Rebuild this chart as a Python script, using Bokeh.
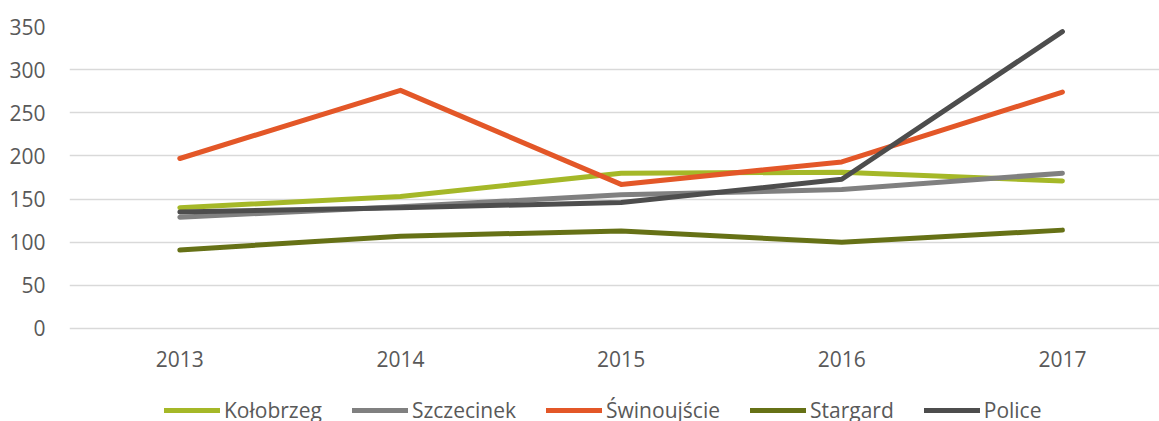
from bokeh.plotting import figure
from bokeh.models import Range1d, FixedTicker, Legend, LegendItem
from bokeh.core.properties import value
from bokeh.embed import file_html
from bokeh.resources import INLINE

years = [2013, 2014, 2015, 2016, 2017]
year_labels = ["2013", "2014", "2015", "2016", "2017"]
y_ticks = [0, 50, 100, 150, 200, 250, 300, 350]

kolobrzeg = [140, 153, 180, 181, 171]
szczecinek = [129, 141, 155, 161, 180]
swinoujscie = [197, 276, 167, 193, 274]
stargard = [91, 107, 113, 100, 114]
police = [135, 140, 146, 173, 344]

series_names = ["Kołobrzeg", "Szczecinek", "Świnoujście", "Stargard", "Police"]
series_values = [kolobrzeg, szczecinek, swinoujscie, stargard, police]
series_colors = ["#A5B828", "#808080", "#E35728", "#667116", "#4D4D4D"]

FONT = "Open Sans"
TXT = "#595959"

# frame spans from the top gridline down to the bottom of the picture,
# so that the category labels and the legend sit inside it below zero
p = figure(width=1159, height=421, output_backend="svg", toolbar_location=None,
           x_range=Range1d(2012.5, 2017.44), y_range=Range1d(-107.8, 350),
           x_axis_location=None,
           min_border_left=69, min_border_right=0, min_border_top=26,
           min_border_bottom=0)
p.outline_line_color = None
p.background_fill_color = "white"
p.border_fill_color = "white"

p.xgrid.grid_line_color = None
p.ygrid.grid_line_color = "#D9D9D9"
p.ygrid.grid_line_width = 1.5

p.yaxis.ticker = FixedTicker(ticks=y_ticks)
ax = p.yaxis[0]
ax.axis_line_color = None
ax.major_tick_line_color = None
ax.minor_tick_line_color = None
ax.major_tick_out = 0
ax.major_tick_in = 0
ax.major_label_text_font = FONT
ax.major_label_text_font_size = "21px"
ax.major_label_text_color = TXT
ax.major_label_standoff = 24

# category labels under the zero line
p.text(x=years, y=[0] * len(years), text=year_labels, y_offset=31,
       text_align="center", text_baseline="middle",
       text_font=value(FONT), text_font_size="21px", text_color=TXT)

items = []
for name, vals, col in zip(series_names, series_values, series_colors):
    r = p.line(years, vals, line_color=col, line_width=5,
               line_cap="round", line_join="round")
    items.append(LegendItem(label=name, renderers=[r]))

legend = Legend(items=items, orientation="horizontal", location=(95, -3),
                glyph_width=56, glyph_height=20, label_standoff=4, spacing=30,
                padding=0, margin=0, border_line_color=None,
                background_fill_alpha=0, label_text_font=FONT,
                label_text_font_size="21px", label_text_color=TXT,
                label_height=20)
p.add_layout(legend, "center")

open("out.html", "w").write(file_html(p, INLINE))
